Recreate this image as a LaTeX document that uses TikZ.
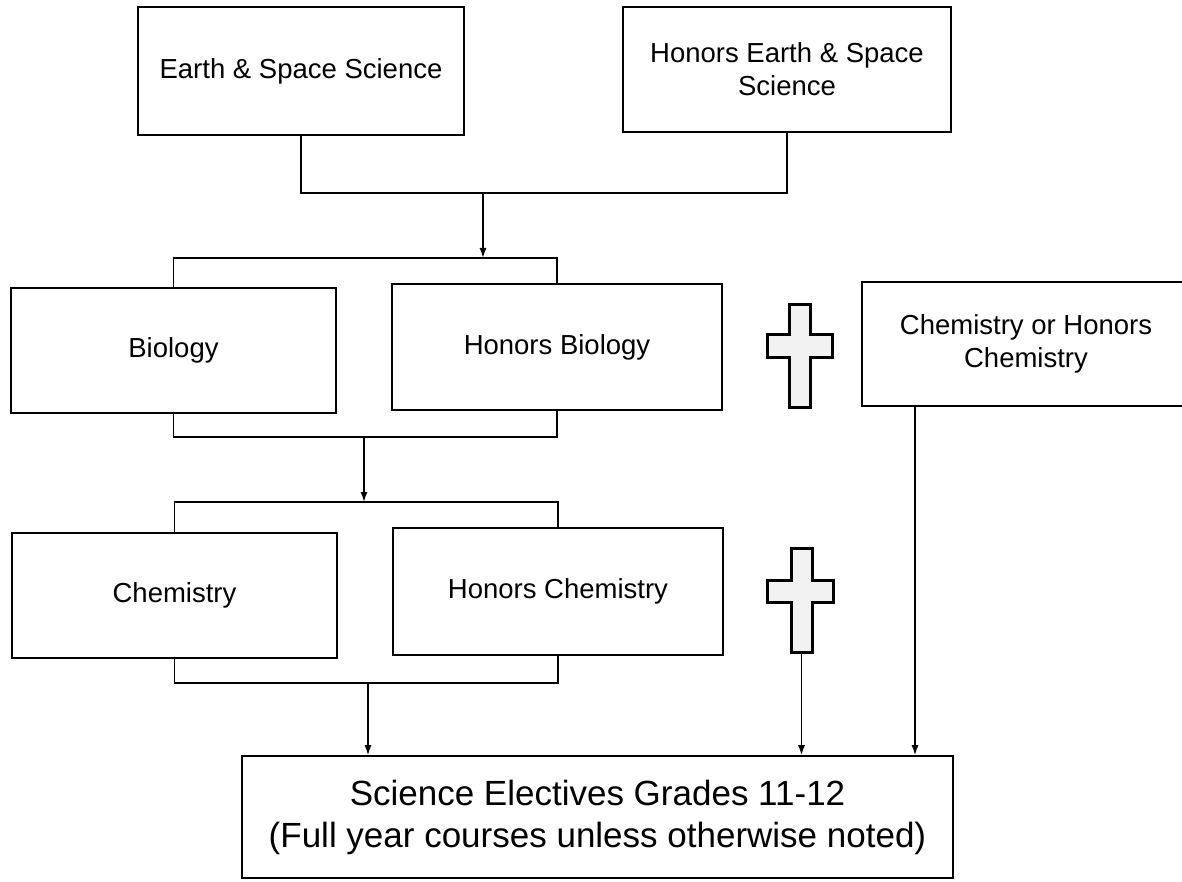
\documentclass[tikz,border=0pt]{standalone}
\usepackage{fontspec}
\setmainfont{Liberation Sans}
\usetikzlibrary{arrows.meta}
\tikzset{
  course/.style={draw=black, line width=1.6pt, fill=white, align=center, inner sep=0pt,
    font=\fontsize{27.5}{33}\selectfont},
  wide/.style={draw=black, line width=1.6pt, fill=white, align=center, inner sep=0pt,
    font=\fontsize{35}{42}\selectfont},
  link/.style={draw=black, line width=1.4pt},
  flow/.style={draw=black, line width=1.4pt, -{Latex[length=10pt,width=7pt]}},
  plusmark/.style={draw=black, line width=3pt, fill=black!5, line join=miter}
}
\begin{document}
\begin{tikzpicture}[x=1pt, y=-1pt]
\useasboundingbox (0,0) rectangle (1182,882);
\fill[white] (0,0) rectangle (1182,882);
\clip (0,0) rectangle (1182,882);

% course boxes
\node[course, minimum width=326pt, minimum height=128pt] (es) at (301,71) {Earth \& Space Science};
\node[course, minimum width=328pt, minimum height=125pt] (hes) at (787,69.5) {Honors Earth \& Space\\Science};
\node[course, minimum width=325pt, minimum height=125pt] (bio) at (173.5,350.5) {Biology};
\node[course, minimum width=330pt, minimum height=126pt] (hbio) at (557,347) {Honors Biology};
\node[course, minimum width=328pt, minimum height=124pt] (coh) at (1026,344) {Chemistry or Honors\\Chemistry};
\node[course, minimum width=325pt, minimum height=125pt] (chem) at (174.5,595.5) {Chemistry};
\node[course, minimum width=330pt, minimum height=127pt] (hchem) at (558,591.5) {Honors Chemistry};
\node[wide, minimum width=711pt, minimum height=122pt] (elec) at (597.5,817) {Science Electives Grades 11-12\\(Full year courses unless otherwise noted)};

% plus signs
\draw[plusmark] (789,305) -- (810,305) -- (810,334) -- (832,334) -- (832,357) -- (810,357) -- (810,407) -- (789,407) -- (789,357) -- (767,357) -- (767,334) -- (789,334) -- cycle;
\draw[plusmark] (791,548) -- (812,548) -- (812,580) -- (833,580) -- (833,602) -- (812,602) -- (812,652) -- (791,652) -- (791,602) -- (767,602) -- (767,580) -- (791,580) -- cycle;
\coordinate (p2) at (801.5,652);

% junction levels
\coordinate (j1) at (483,193);
\coordinate (b1) at (483,258);
\coordinate (j2) at (364,437);
\coordinate (b2) at (364,502);
\coordinate (j3) at (368,683);
\coordinate (xcoh) at (915,0);

% Earth & Space -> Biology row
\draw[link] (es.south) -- (es.south |- j1) -- (hes.south |- j1) -- (hes.south);
\draw[flow] (j1) -- (b1);
\draw[link] (bio.north) -- (bio.north |- b1) -- (hbio.north |- b1) -- (hbio.north);

% Biology row -> Chemistry row
\draw[link] (bio.south) -- (bio.south |- j2) -- (hbio.south |- j2) -- (hbio.south);
\draw[flow] (j2) -- (b2);
\draw[link] (chem.north) -- (chem.north |- b2) -- (hchem.north |- b2) -- (hchem.north);

% Chemistry row -> Electives
\draw[link] (chem.south) -- (chem.south |- j3) -- (hchem.south |- j3) -- (hchem.south);
\draw[flow] (j3) -- (j3 |- elec.north);

% plus and Chemistry or Honors -> Electives
\draw[flow] (p2) -- (p2 |- elec.north);
\draw[flow] (coh.south -| xcoh) -- (elec.north -| xcoh);
\end{tikzpicture}
\end{document}
